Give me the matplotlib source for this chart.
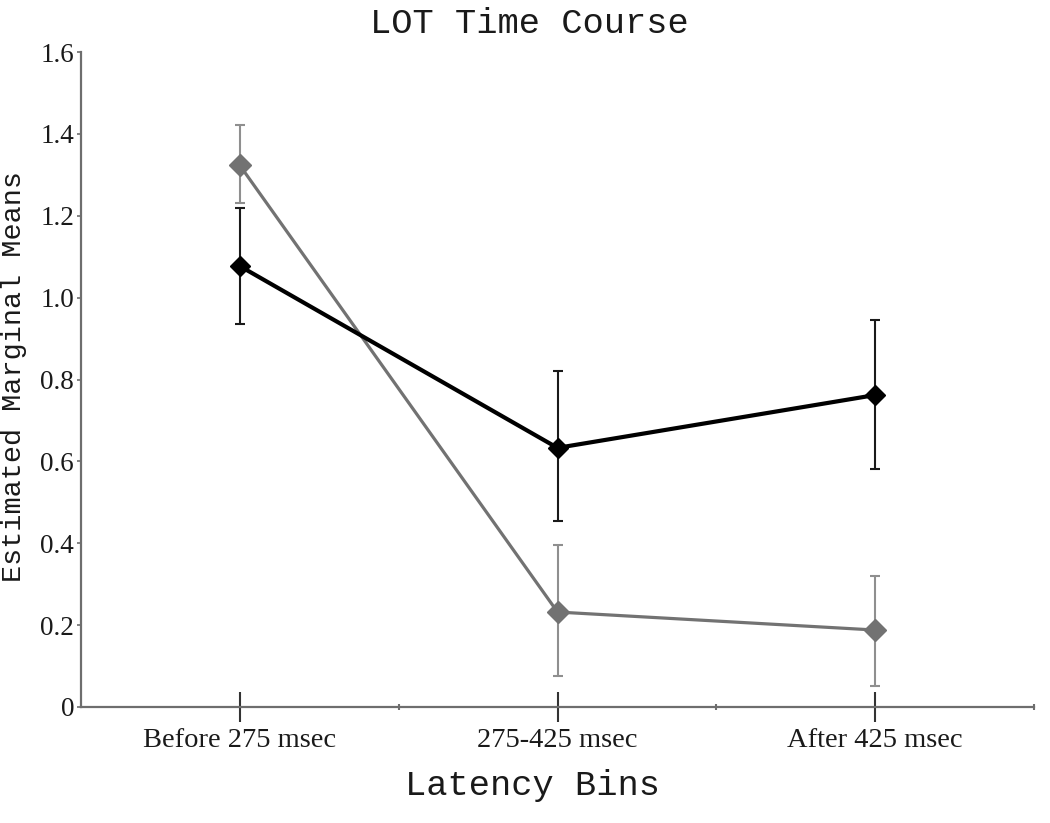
import matplotlib
matplotlib.use("Agg")
import matplotlib.pyplot as plt
from matplotlib.ticker import FixedLocator, FuncFormatter

# dane
przedzialy = ["Before 275 msec", "275-425 msec", "After 425 msec"]
srednie_czarne = [1.077, 0.633, 0.762]
dolne_czarne = [0.935, 0.455, 0.582]
gorne_czarne = [1.220, 0.820, 0.945]
srednie_szare = [1.323, 0.232, 0.188]
dolne_szare = [1.231, 0.076, 0.052]
gorne_szare = [1.422, 0.396, 0.319]
wartosci_y = [0, 0.2, 0.4, 0.6, 0.8, 1.0, 1.2, 1.4, 1.6]

MONO = "Liberation Mono"
SERIF = "Liberation Serif"

figura = plt.figure(figsize=(10.5, 8.23), dpi=100)
os = figura.add_axes([81 / 1050, 1 - 707 / 823, 953 / 1050, 655 / 823])

pozycje = list(range(len(przedzialy)))


def rysuj_serie(srednie, dolne, gorne, kolor_linii, kolor_bledu, szer, ms):
    bledy = [
        [s - d for s, d in zip(srednie, dolne)],
        [g - s for s, g in zip(srednie, gorne)],
    ]
    os.errorbar(pozycje, srednie, yerr=bledy, fmt="none", ecolor=kolor_bledu,
                elinewidth=1.5, capsize=3.6, capthick=1.5, zorder=2)
    os.plot(pozycje, srednie, color=kolor_linii, lw=szer, marker="D",
            markersize=ms, markerfacecolor=kolor_linii,
            markeredgecolor=kolor_linii, zorder=3)


rysuj_serie(srednie_szare, dolne_szare, gorne_szare, "#727272", "#8f8f8f", 2.3, 11)
rysuj_serie(srednie_czarne, dolne_czarne, gorne_czarne, "#000000", "#1a1a1a", 3.0, 10.5)

os.set_xlim(-0.5, 2.5)
os.set_ylim(0, 1.6)

for strona in ("top", "right"):
    os.spines[strona].set_visible(False)
for strona in ("left", "bottom"):
    os.spines[strona].set_color("#6e6e6e")
    os.spines[strona].set_linewidth(1.6)

os.set_xticks(pozycje)
os.set_xticklabels(przedzialy, fontfamily=SERIF, fontsize=20.5, color="#1a1a1a")
os.xaxis.set_minor_locator(FixedLocator([0.5, 1.5, 2.5]))
os.tick_params(axis="x", which="major", direction="inout", length=22, width=1.5,
               color="#333333", pad=4)
os.tick_params(axis="x", which="minor", direction="inout", length=4, width=1.5,
               color="#6e6e6e")

os.yaxis.set_major_locator(FixedLocator(wartosci_y))
os.yaxis.set_major_formatter(FuncFormatter(lambda v, _: "0" if v == 0 else f"{v:.1f}"))
os.tick_params(axis="y", direction="out", length=3, width=1.2, color="#6e6e6e",
               labelsize=19.5, labelcolor="#1a1a1a", pad=2)
for etykieta in os.get_yticklabels():
    etykieta.set_fontfamily(SERIF)

os.set_title("LOT Time Course", fontfamily=MONO, fontsize=25.5, color="#1a1a1a",
             x=0.471, pad=14)
os.set_ylabel("Estimated Marginal Means", fontfamily=MONO, fontsize=20.5,
              color="#1a1a1a")
os.yaxis.set_label_coords(-0.057, 0.505)
os.set_xlabel("Latency Bins", fontfamily=MONO, fontsize=25.5, color="#1a1a1a")
os.xaxis.set_label_coords(0.474, -0.095)

figura.savefig("out.png", dpi=100)
